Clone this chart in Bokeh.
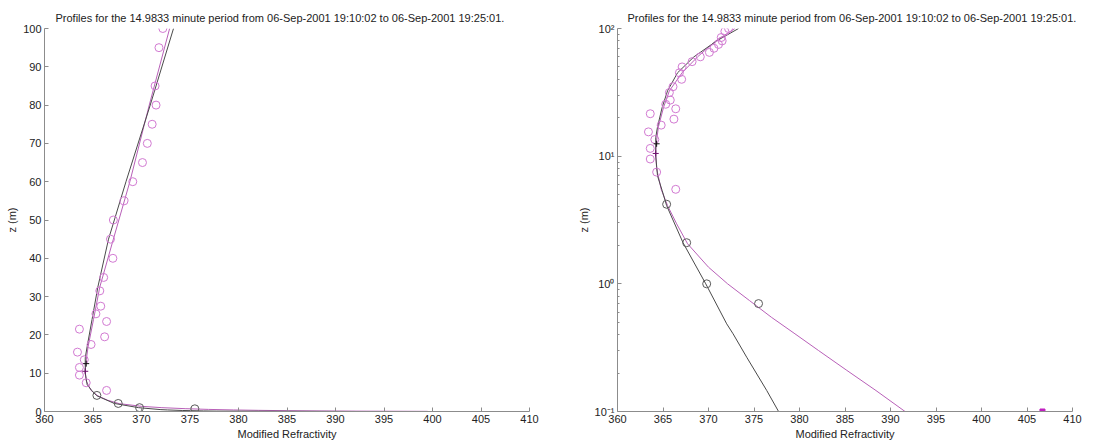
from bokeh.plotting import figure
from bokeh.layouts import row
from bokeh.models import FixedTicker, CustomJSTickFormatter, Range1d
from bokeh.embed import file_html
from bokeh.resources import INLINE

# ---------------- data ----------------
title_text = "Profiles for the 14.9833 minute period from 06-Sep-2001 19:10:02 to 06-Sep-2001 19:25:01."
x_label = "Modified Refractivity"
y_label = "z (m)"

x_ticks = [360, 365, 370, 375, 380, 385, 390, 395, 400, 405, 410]
y_ticks_lin = [0, 10, 20, 30, 40, 50, 60, 70, 80, 90, 100]
y_ticks_log = [0.1, 1, 10, 100]

# measured points (magenta circles)
mag_pts_N = [372.2, 371.8, 371.4, 371.5, 371.1, 370.6, 370.1, 369.1, 368.2, 367.1,
             366.8, 367.05, 366.1, 365.7, 365.8, 365.3, 366.4, 363.6, 366.2, 364.8,
             363.4, 364.1, 363.6, 363.6, 364.3, 366.4]
mag_pts_z = [100, 95, 85, 80, 75, 70, 65, 60, 55, 50,
             45, 40, 35, 31.5, 27.5, 25.5, 23.5, 21.5, 19.5, 17.5,
             15.5, 13.5, 11.5, 9.5, 7.5, 5.5]

# measured points (black circles)
blk_pts_N = [365.4, 367.6, 369.8, 375.5]
blk_pts_z = [4.2, 2.1, 1.0, 0.7]

# fitted profile (black)
blk_fit_N = [373.3, 370.9, 368.4, 366.6, 365.5, 364.9, 364.4, 364.2, 364.2, 364.2,
             364.4, 364.9, 365.4, 367.2, 369.7, 372.0, 372.7, 374.2, 376.4, 377.7, 392.0]
blk_fit_z = [100, 80, 60, 45, 32.5, 24, 17, 14, 12.5, 10,
             7, 5.4, 4.1, 2.1, 1.0, 0.486, 0.406, 0.266, 0.146, 0.1, 0.002]

# fitted profile (magenta)
mag_fit_N = [372.9, 370.8, 368.8, 367.1, 365.7, 365.05, 364.5, 364.25, 364.2, 364.3,
             364.8, 365.5, 366.5, 367.7, 370.0, 372.1, 374.5, 376.9, 379.5, 382.1,
             385.2, 388.4, 391.6, 399.5]
mag_fit_z = [100, 80, 60, 45, 32.5, 24, 17, 12.5, 10.5, 8,
             5.5, 4.1, 2.95, 2.06, 1.35, 1.0, 0.74, 0.548, 0.406, 0.30,
             0.21, 0.146, 0.1, 0.04]

# minimum markers
min_blk_N = [364.3]
min_blk_z = [12.5]
min_mag_N = [364.2]
min_mag_z = [10.5]

# surface value (square)
surf_N = [406.7]
surf_z = [0.1]

# ---------------- styling ----------------
FONT = "Liberation Sans"
AX_COL = "#8c8c8c"
TXT_COL = "#222222"
MAG_PT = "#d27ad2"
MAG_LN = "#b860b8"
BLK_LN = "#4a4a4a"
BLK_PT = "#5a5a5a"


def style(p, title_offset):
    p.title.text_font = FONT
    p.title.text_font_size = "11px"
    p.title.text_font_style = "normal"
    p.title.text_color = TXT_COL
    p.title.align = "left"
    p.title.offset = title_offset
    p.title.standoff = 9
    p.outline_line_color = None
    p.xgrid.visible = False
    p.ygrid.visible = False
    p.background_fill_color = "white"
    p.border_fill_color = "white"
    for ax in (p.xaxis[0], p.yaxis[0]):
        ax.axis_line_color = AX_COL
        ax.major_tick_line_color = AX_COL
        ax.minor_tick_line_color = AX_COL
        ax.major_tick_in = 4
        ax.major_tick_out = 0
        ax.minor_tick_in = 2
        ax.minor_tick_out = 0
        ax.major_label_text_font = FONT
        ax.major_label_text_font_size = "11px"
        ax.major_label_text_color = TXT_COL
        ax.axis_label_text_font = FONT
        ax.axis_label_text_font_size = "11px"
        ax.axis_label_text_font_style = "normal"
        ax.axis_label_text_color = TXT_COL
        ax.major_label_standoff = 3
        ax.axis_label_standoff = 2
    p.xaxis[0].ticker = FixedTicker(ticks=x_ticks)
    p.xaxis[0].minor_tick_line_color = None
    p.xaxis[0].axis_label = x_label
    p.yaxis[0].axis_label = y_label


def draw(p):
    p.line(mag_fit_N, mag_fit_z, line_color=MAG_LN, line_width=1)
    p.line(blk_fit_N, blk_fit_z, line_color=BLK_LN, line_width=1)
    p.scatter(mag_pts_N, mag_pts_z, marker="circle", size=8, fill_color=None,
              line_color=MAG_PT, line_width=1)
    p.scatter(blk_pts_N, blk_pts_z, marker="circle", size=8, fill_color=None,
              line_color=BLK_PT, line_width=1)
    p.scatter(min_blk_N, min_blk_z, marker="cross", size=6, line_color="#111111", line_width=1)
    p.scatter(min_mag_N, min_mag_z, marker="cross", size=6, line_color="#701070", line_width=1)


# ---------------- left: linear ----------------
p1 = figure(width=560, height=443, output_backend="svg", toolbar_location=None,
            x_range=Range1d(360, 410), y_range=Range1d(0, 100),
            title=title_text,
            min_border_left=44, min_border_right=31, min_border_top=28, min_border_bottom=32)
style(p1, 11)
p1.yaxis[0].ticker = FixedTicker(ticks=y_ticks_lin)
p1.yaxis[0].minor_tick_line_color = None
draw(p1)

# ---------------- right: log ----------------
p2 = figure(width=557, height=443, output_backend="svg", toolbar_location=None,
            x_range=Range1d(360, 410), y_range=Range1d(0.1, 100), y_axis_type="log",
            title=title_text,
            min_border_left=57, min_border_right=45, min_border_top=28, min_border_bottom=32)
style(p2, 10)
minor = []
for dec in y_ticks_log[:-1]:
    for k in range(2, 10):
        minor.append(dec * k)
p2.yaxis[0].ticker = FixedTicker(ticks=y_ticks_log, minor_ticks=minor)
p2.yaxis[0].formatter = CustomJSTickFormatter(code="""
const e = Math.round(Math.log10(tick));
const m = {"-1": "10\u207b\u00b9", "0": "10\u2070", "1": "10\u00b9", "2": "10\u00b2"};
return m[String(e)] ?? "";
""")
draw(p2)
p2.scatter(surf_N, surf_z, marker="square", size=5, fill_color="#c020c0", line_color="#c020c0")

layout = row(p1, p2)
open("out.html", "w").write(file_html(layout, INLINE))
